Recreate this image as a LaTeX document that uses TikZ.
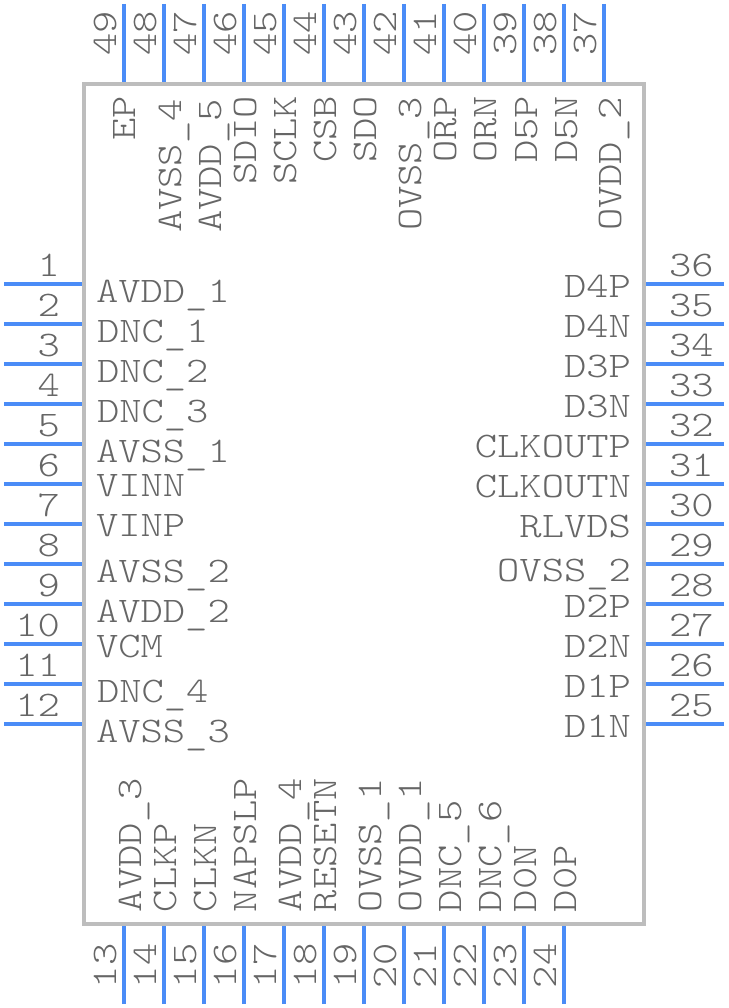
\documentclass[tikz,border=0pt]{standalone}
\usepackage{graphicx}
\usepackage{fontspec}
\newfontfamily\lightmono{Latin Modern Mono Light}
\definecolor{pinblue}{HTML}{4A8CF7}
\definecolor{bodygrey}{HTML}{BDBDBD}
\definecolor{txtgrey}{HTML}{666666}
\newcommand{\pinlab}[1]{\scalebox{1.18}[1]{\fontsize{36}{36}\selectfont\lightmono #1}}
\newcommand{\us}{\raisebox{-2.5pt}{\_}}
\tikzset{
  pinline/.style={draw=pinblue,line width=4pt},
  bodybox/.style={draw=bodygrey,line width=4pt},
  lbl/.style={inner sep=0pt,outer sep=0pt,text=txtgrey},
  lft/.style={lbl,anchor=base west},
  rgt/.style={lbl,anchor=base east},
  rot/.style={lbl,anchor=base west,rotate=90}
}
\begin{document}
\begin{tikzpicture}[x=1pt,y=-1pt]
\useasboundingbox (0,0) rectangle (728,1008);
\node[bodybox,rectangle,minimum width=560pt,minimum height=840pt,inner sep=0pt,outer sep=0pt,anchor=north west] (body) at (84,84) {};
% left and right pins
\foreach \i in {1,...,12}{
  \pgfmathsetmacro{\yy}{284+40*(\i-1)}
  \pgfmathtruncatemacro{\rn}{37-\i}
  \coordinate (pl\i) at (4,\yy);
  \coordinate (bl\i) at (82,\yy);
  \coordinate (pr\i) at (724,\yy);
  \coordinate (br\i) at (646,\yy);
  \draw[pinline] (pl\i) -- (bl\i);
  \draw[pinline] (pr\i) -- (br\i);
  \node[rgt] (nl\i) at (60,\yy-8) {\pinlab{\i}};
  \node[lft] (nr\i) at (669,\yy-8) {\pinlab{\rn}};
}
% top and bottom pins
\foreach \i in {1,...,13}{
  \pgfmathsetmacro{\xx}{124+40*(\i-1)}
  \pgfmathtruncatemacro{\tn}{50-\i}
  \coordinate (pt\i) at (\xx,4);
  \coordinate (bt\i) at (\xx,82);
  \draw[pinline] (pt\i) -- (bt\i);
  \node[rot] (nt\i) at (\xx-8,56) {\pinlab{\tn}};
}
\foreach \i in {1,...,12}{
  \pgfmathsetmacro{\xx}{124+40*(\i-1)}
  \pgfmathtruncatemacro{\bn}{12+\i}
  \coordinate (pb\i) at (\xx,1004);
  \coordinate (bb\i) at (\xx,926);
  \draw[pinline] (pb\i) -- (bb\i);
  \node[rot] (nb\i) at (\xx-8,988) {\pinlab{\bn}};
}
% left names
\node[lft] (a1) at (96,302) {\pinlab{AVDD\us 1}};
\node[lft] (a2) at (97,342) {\pinlab{DNC\us 1}};
\node[lft] (a3) at (97,382) {\pinlab{DNC\us 2}};
\node[lft] (a4) at (97,422) {\pinlab{DNC\us 3}};
\node[lft] (a5) at (96,462) {\pinlab{AVSS\us 1}};
\node[lft] (a6) at (96,496) {\pinlab{VINN}};
\node[lft] (a7) at (96,536) {\pinlab{VINP}};
\node[lft] (a8) at (96,582) {\pinlab{AVSS\us 2}};
\node[lft] (a9) at (96,622) {\pinlab{AVDD\us 2}};
\node[lft] (a10) at (96,657) {\pinlab{VCM}};
\node[lft] (a11) at (97,702) {\pinlab{DNC\us 4}};
\node[lft] (a12) at (96,742) {\pinlab{AVSS\us 3}};
% right names
\node[rgt] (b36) at (631,297) {\pinlab{D4P}};
\node[rgt] (b35) at (631,337) {\pinlab{D4N}};
\node[rgt] (b34) at (631,377) {\pinlab{D3P}};
\node[rgt] (b33) at (631,417) {\pinlab{D3N}};
\node[rgt] (b32) at (631,457) {\pinlab{CLKOUTP}};
\node[rgt] (b31) at (631,497) {\pinlab{CLKOUTN}};
\node[rgt] (b30) at (631,537) {\pinlab{RLVDS}};
\node[rgt] (b29) at (631,581) {\pinlab{OVSS\us 2}};
\node[rgt] (b28) at (631,617) {\pinlab{D2P}};
\node[rgt] (b27) at (631,657) {\pinlab{D2N}};
\node[rgt] (b26) at (631,697) {\pinlab{D1P}};
\node[rgt] (b25) at (631,737) {\pinlab{D1N}};
% top names
\node[rot] (t49) at (135,141) {\pinlab{EP}};
\node[rot] (t48) at (181,233) {\pinlab{AVSS\us 4}};
\node[rot] (t47) at (221,233) {\pinlab{AVDD\us 5}};
\node[rot] (t46) at (256,185) {\pinlab{SDIO}};
\node[rot] (t45) at (296,185) {\pinlab{SCLK}};
\node[rot] (t44) at (336,163) {\pinlab{CSB}};
\node[rot] (t43) at (376,163) {\pinlab{SDO}};
\node[rot] (t42) at (421,231) {\pinlab{OVSS\us 3}};
\node[rot] (t41) at (456,163) {\pinlab{ORP}};
\node[rot] (t40) at (496,163) {\pinlab{ORN}};
\node[rot] (t39) at (537,163) {\pinlab{D5P}};
\node[rot] (t38) at (577,163) {\pinlab{D5N}};
\node[rot] (t37) at (621,231) {\pinlab{OVDD\us 2}};
% bottom names
\node[rot] (u13) at (141,912) {\pinlab{AVDD\us 3}};
\node[rot] (u14) at (176,912) {\pinlab{CLKP}};
\node[rot] (u15) at (216,912) {\pinlab{CLKN}};
\node[rot] (u16) at (256,912) {\pinlab{NAPSLP}};
\node[rot] (u17) at (301,912) {\pinlab{AVDD\us 4}};
\node[rot] (u18) at (336,912) {\pinlab{RESETN}};
\node[rot] (u19) at (381,912) {\pinlab{OVSS\us 1}};
\node[rot] (u20) at (421,912) {\pinlab{OVDD\us 1}};
\node[rot] (u21) at (461,912) {\pinlab{DNC\us 5}};
\node[rot] (u22) at (501,912) {\pinlab{DNC\us 6}};
\node[rot] (u23) at (536,912) {\pinlab{D0N}};
\node[rot] (u24) at (576,912) {\pinlab{D0P}};
\end{tikzpicture}
\end{document}
